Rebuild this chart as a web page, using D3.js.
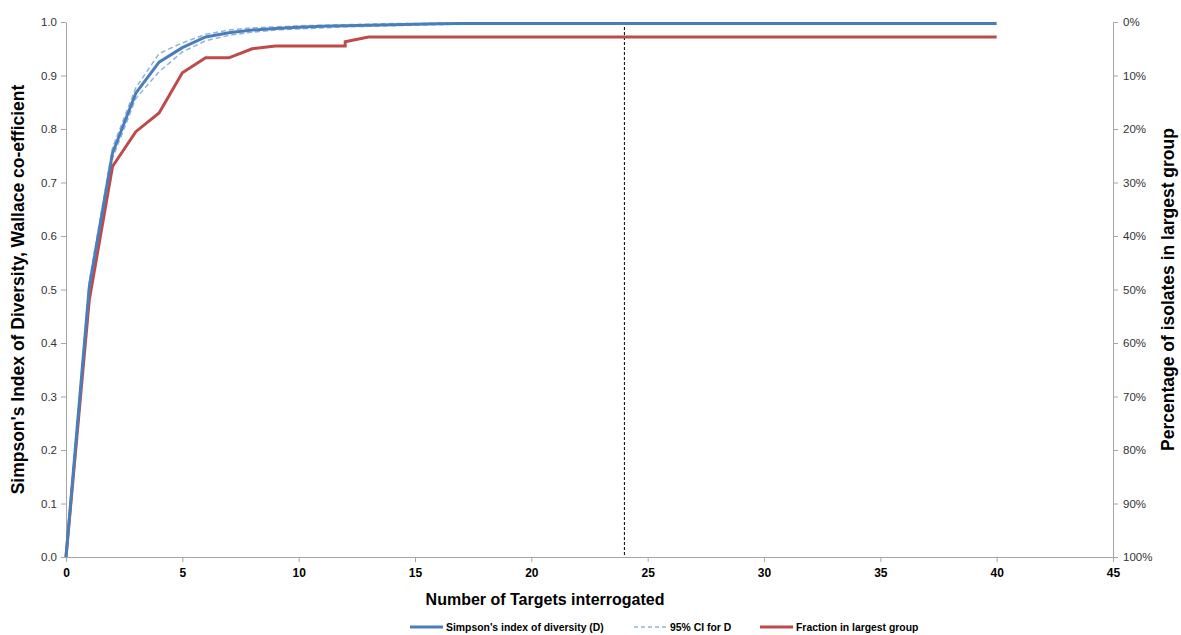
<!DOCTYPE html>
<html>
<head>
<meta charset="utf-8">
<script src="https://cdn.jsdelivr.net/npm/d3@7"></script>
<style>
  body { margin: 0; background: #fff; }
  svg { font-family: "Liberation Sans", Arial, sans-serif; }
</style>
</head>
<body>
<svg id="chart"></svg>
<script>
const width = 1181;
const height = 635;

// number of targets interrogated
const targets = [0, 1, 2, 3, 4, 5, 6, 7, 8, 9, 10, 11, 12, 13, 14, 15, 16, 17, 18, 19, 20, 24, 30, 35, 40];
// Simpson's index of diversity (D)
const simpsonD = [0, 0.505, 0.755, 0.867, 0.925, 0.952, 0.972, 0.98, 0.985, 0.988, 0.99, 0.992, 0.993, 0.994, 0.995, 0.996, 0.9965, 0.997, 0.997, 0.997, 0.997, 0.997, 0.997, 0.997, 0.997];
const ciUpper = [0, 0.515, 0.765, 0.877, 0.941, 0.961, 0.977, 0.985, 0.989, 0.991, 0.993, 0.994, 0.995, 0.996, 0.997, 0.997, 0.998, 0.998, 0.998, 0.998, 0.998, 0.998, 0.998, 0.998, 0.998];
const ciLower = [0, 0.49, 0.745, 0.857, 0.907, 0.944, 0.965, 0.975, 0.981, 0.985, 0.987, 0.989, 0.991, 0.992, 0.993, 0.994, 0.995, 0.996, 0.996, 0.996, 0.996, 0.996, 0.996, 0.996, 0.996];

// fraction in largest group (right axis, reversed)
const fracX = [0, 1, 2, 3, 4, 5, 6, 7, 8, 9, 10, 11, 12, 12, 13, 20, 30, 40];
const fracLargest = [1.0, 0.52, 0.27, 0.205, 0.17, 0.095, 0.067, 0.067, 0.05, 0.045, 0.045, 0.045, 0.045, 0.037, 0.028, 0.028, 0.028, 0.028];

const cutoff = 24;
const xTicks = [0, 5, 10, 15, 20, 25, 30, 35, 40, 45];
const yTicks = [0, 0.1, 0.2, 0.3, 0.4, 0.5, 0.6, 0.7, 0.8, 0.9, 1.0];
const pctTicks = [0, 0.1, 0.2, 0.3, 0.4, 0.5, 0.6, 0.7, 0.8, 0.9, 1.0];

const margin = { top: 22, right: 68, bottom: 78, left: 66 };

const svg = d3.select("#chart")
  .attr("width", width)
  .attr("height", height);

const x = d3.scaleLinear().domain([0, 45]).range([margin.left, width - margin.right]);
const y = d3.scaleLinear().domain([0, 1]).range([height - margin.bottom, margin.top]);
const yPct = d3.scaleLinear().domain([0, 1]).range([margin.top, height - margin.bottom]);

const axisColor = "#a6a6a6";

// axes
const gx = svg.append("g")
  .attr("transform", `translate(0,${height - margin.bottom})`)
  .call(d3.axisBottom(x).tickValues(xTicks).tickSize(5).tickSizeOuter(0).tickPadding(6));

gx.selectAll("text").attr("font-weight", "bold").attr("font-size", 12).attr("fill", "#000");

const gy = svg.append("g")
  .attr("transform", `translate(${margin.left},0)`)
  .call(d3.axisLeft(y).tickValues(yTicks).tickFormat(d3.format(".1f")).tickSize(5).tickSizeOuter(0).tickPadding(4));

gy.selectAll("text").attr("font-size", 11.5).attr("fill", "#333");

const gr = svg.append("g")
  .attr("transform", `translate(${width - margin.right},0)`)
  .call(d3.axisRight(yPct).tickValues(pctTicks).tickFormat(d3.format(".0%")).tickSize(5).tickSizeOuter(0).tickPadding(5));

gr.selectAll("text").attr("font-size", 11.5).attr("fill", "#333");

svg.selectAll(".domain, .tick line").attr("stroke", axisColor);

// cutoff marker
svg.append("line")
  .attr("x1", x(cutoff)).attr("x2", x(cutoff))
  .attr("y1", y(1)).attr("y2", y(0))
  .attr("stroke", "#000")
  .attr("stroke-width", 1)
  .attr("stroke-dasharray", "3,2");

const line = d3.line();

const dPts = targets.map((t, i) => [x(t), y(simpsonD[i])]);
const upPts = targets.map((t, i) => [x(t), y(ciUpper[i])]);
const loPts = targets.map((t, i) => [x(t), y(ciLower[i])]);
const fracPts = fracX.map((t, i) => [x(t), yPct(fracLargest[i])]);

[upPts, loPts].forEach(pts => {
  svg.append("path")
    .attr("d", line(pts))
    .attr("fill", "none")
    .attr("stroke", "#8eb4e3")
    .attr("stroke-width", 1.5)
    .attr("stroke-dasharray", "5,3");
});

svg.append("path")
  .attr("d", line(fracPts))
  .attr("fill", "none")
  .attr("stroke", "#be4b48")
  .attr("stroke-width", 3);

svg.append("path")
  .attr("d", line(dPts))
  .attr("fill", "none")
  .attr("stroke", "#4a7ebb")
  .attr("stroke-width", 3);

// axis titles
svg.append("text")
  .attr("transform", `translate(24,${(margin.top + height - margin.bottom) / 2}) rotate(-90)`)
  .attr("text-anchor", "middle")
  .attr("font-size", 17.5)
  .attr("font-weight", "bold")
  .text("Simpson's Index of Diversity, Wallace co-efficient");

svg.append("text")
  .attr("transform", `translate(1174,${(margin.top + height - margin.bottom) / 2}) rotate(-90)`)
  .attr("text-anchor", "middle")
  .attr("font-size", 17.5)
  .attr("font-weight", "bold")
  .text("Percentage of isolates in largest group");

svg.append("text")
  .attr("x", 545)
  .attr("y", 605)
  .attr("text-anchor", "middle")
  .attr("font-size", 16)
  .attr("font-weight", "bold")
  .text("Number of Targets interrogated");

// legend
const legend = [
  { label: "Simpson's index of diversity (D)", color: "#4a7ebb", dash: null, width: 3, x0: 410 },
  { label: "95% CI for D", color: "#8eb4e3", dash: "4,3", width: 1.5, x0: 634 },
  { label: "Fraction in largest group", color: "#be4b48", dash: null, width: 3, x0: 760 }
];

const lg = svg.append("g").attr("transform", "translate(0,627)");
legend.forEach(d => {
  lg.append("line")
    .attr("x1", d.x0).attr("x2", d.x0 + 33)
    .attr("y1", 0).attr("y2", 0)
    .attr("stroke", d.color)
    .attr("stroke-width", d.width)
    .attr("stroke-dasharray", d.dash);
  lg.append("text")
    .attr("x", d.x0 + 36)
    .attr("y", 4)
    .attr("font-size", 10.4)
    .attr("font-weight", "bold")
    .text(d.label);
});
</script>
</body>
</html>
